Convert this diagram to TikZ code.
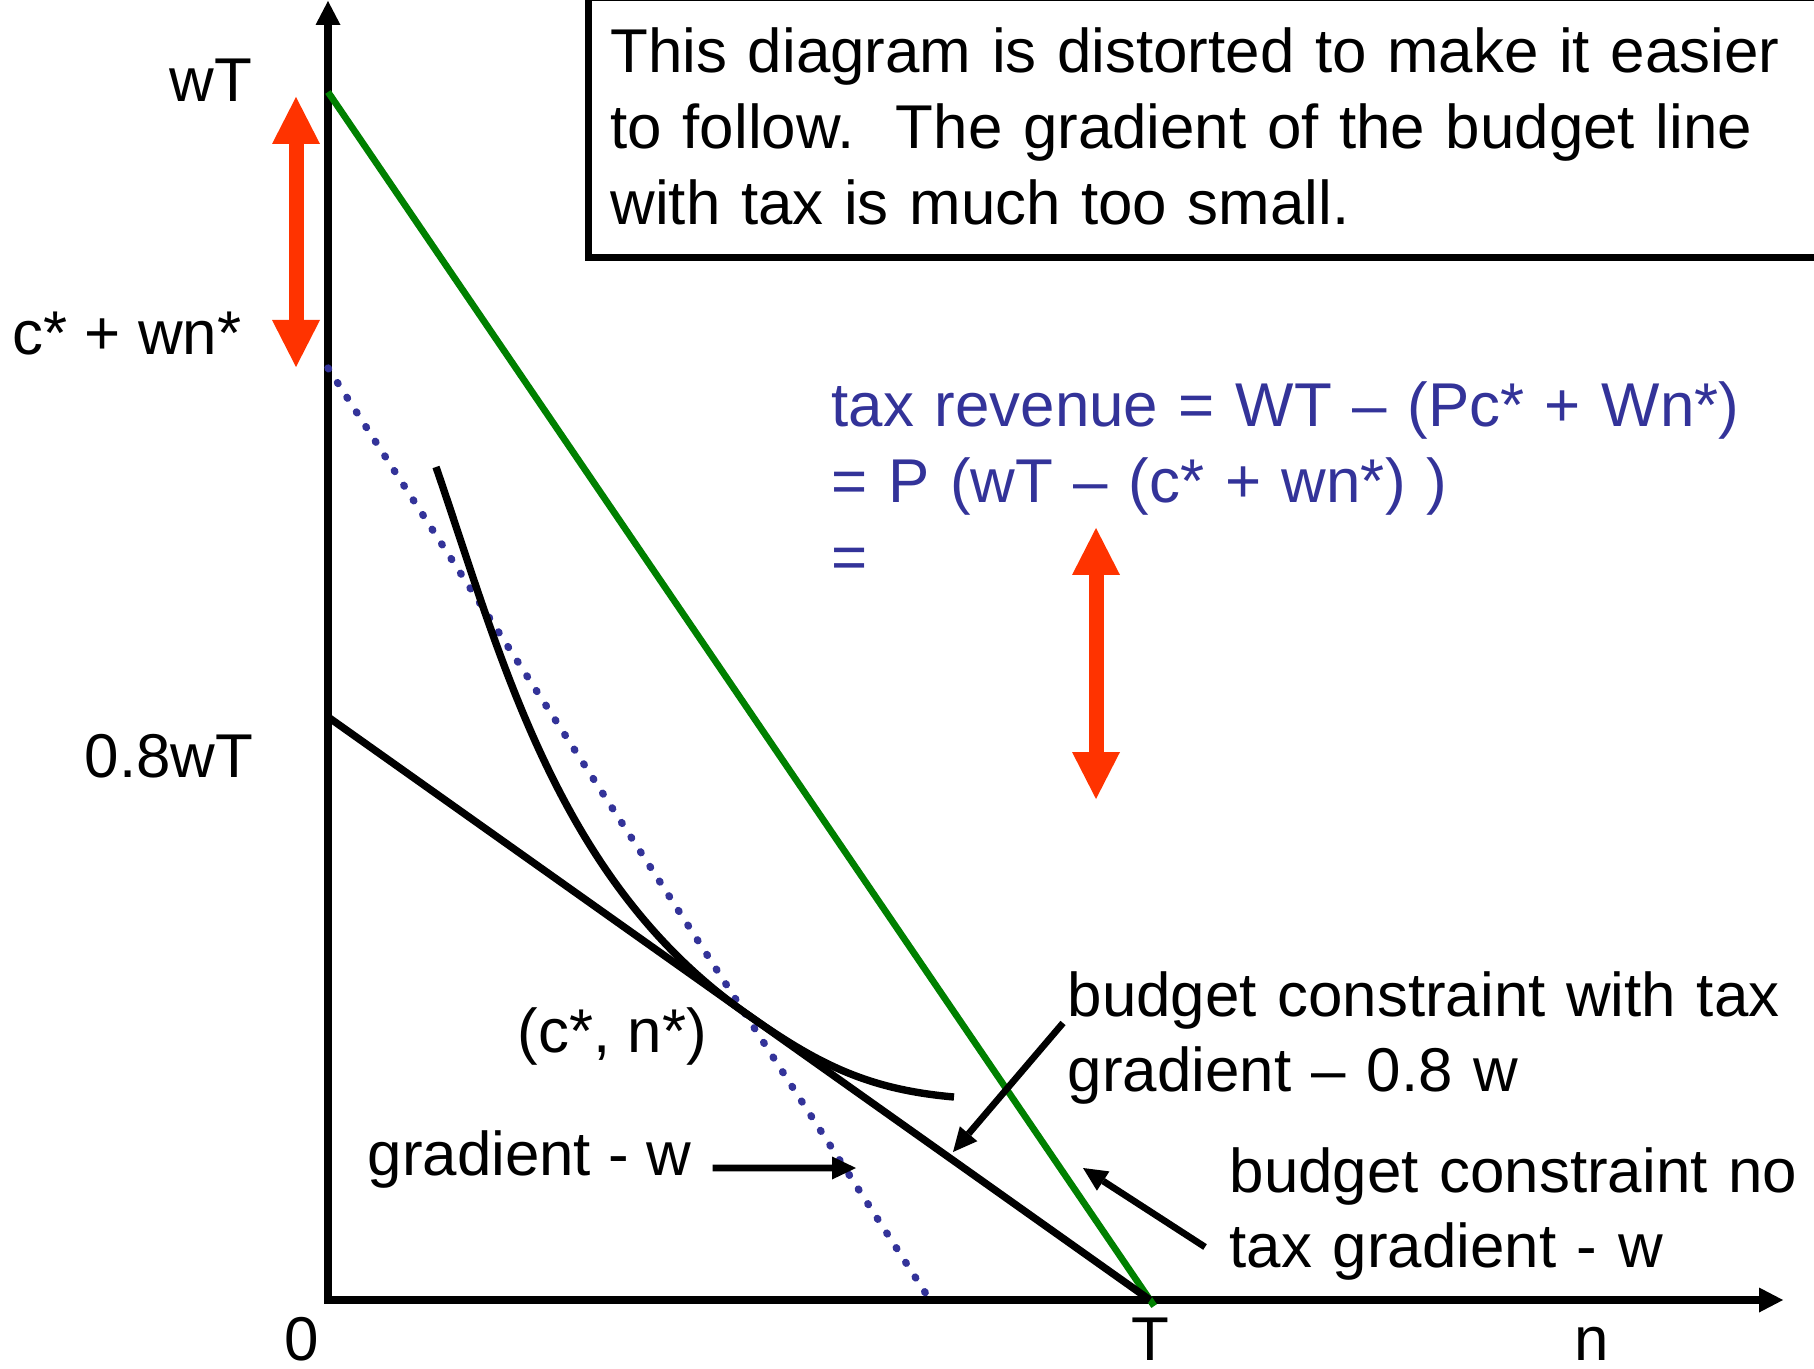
\documentclass[tikz,border=0pt]{standalone}
\usepackage{fontspec}
\setmainfont{Liberation Sans}
\usetikzlibrary{arrows.meta, calc}
\definecolor{cred}{HTML}{FF3300}
\definecolor{cgreen}{HTML}{008000}
\definecolor{cblue}{HTML}{333399}
\tikzset{
  every picture/.style={line width=2.1pt},
  axis/.style={line width=2.3pt, {Triangle[length=0.24cm, width=0.25cm, line width=0pt]}-{Triangle[length=0.24cm, width=0.25cm, line width=0pt]}},
  budget/.style={line width=2.1pt},
  notax/.style={draw=cgreen, line width=1.9pt},
  tangent/.style={draw=cblue, line width=2.1pt, line cap=round, dash pattern=on 0.3pt off 0.164cm},
  ptr/.style={-{Triangle[length=0.24cm, width=0.23cm, line width=0pt]}, line width=1.9pt},
  gap/.style={draw=cred, line width=0.15cm, {Triangle[length=0.47cm, width=0.48cm, line width=0pt]}-{Triangle[length=0.47cm, width=0.48cm, line width=0pt]}},
  lbl/.style={inner sep=0pt},
  txt/.style={inner sep=0pt, align=left, text width=#1},
  notebox/.style={draw, line width=2pt, align=left, text width=12.6cm, inner xsep=0.22cm, inner ysep=0.18cm},
}

\begin{document}
\begin{tikzpicture}[every node/.append style={font=\fontsize{17.6pt}{21.6pt}\selectfont}]
  \useasboundingbox (0,0) rectangle (18.14,13.68);
  \clip (0,0) rectangle (18.14,13.68);

  % axes and points on them
  \coordinate (O) at (3.28,0.68);
  \coordinate (ytop) at (3.28,13.67);
  \coordinate (xend) at (17.83,0.68);
  \coordinate (wT) at (3.28,12.76);
  \coordinate (cw) at (3.28,10.00);
  \coordinate (tx) at (3.28,6.51);
  \coordinate (T) at (11.50,0.68);
  \coordinate (gwe) at (9.30,0.68);
  \coordinate (P) at (intersection of tx--T and cw--gwe);
  \coordinate (ic1) at (4.36,9.01);
  \coordinate (ic2) at (9.54,2.71);

  \draw[axis] (ytop) -- (O) -- (xend);

  % budget lines and indifference curve
  \draw[tangent] (cw) -- (gwe);
  \draw[notax] (wT) -- ($(wT)!1.005!(T)$);
  \draw[budget] (tx) -- (T);
  \draw[budget] (ic1) .. controls +(-71:2.0) and +(144.65:2.3) .. (P)
    to[out=-35.35, in=175] (ic2);

  % axis labels
  \node[lbl, anchor=base east] (lwT) at (2.56,12.66) {wT};
  \node[lbl, anchor=base east] (lcw) at (2.45,10.13) {c* + wn*};
  \node[lbl, anchor=base east] (ltx) at (2.57,5.91) {0.8wT};
  \node[lbl, anchor=base] (l0) at (3.02,0.08) {0};
  \node[lbl, anchor=base] (lT) at (11.50,0.08) {T};
  \node[lbl, anchor=base] (ln) at (15.92,0.08) {n};

  % note and tax revenue
  \node[notebox, anchor=base west] (note) at (5.85,12.95)
    {\rule{0pt}{0.57cm}This diagram is distorted to make it easier\\to follow.\ \ The gradient of the budget line\\with tax is much too small.\rule[-0.15cm]{0pt}{0pt}};
  \node[txt=9.5cm, text=cblue, anchor=base west] (rev) at (8.28,9.41)
    {tax revenue = WT – (Pc* + Wn*)\\= P (wT – (c* + wn*) )\\=};

  \draw[gap] ($(wT)+(-0.32,-0.05)$) -- ($(cw)+(-0.32,0.01)$);
  \coordinate (g1) at (10.96,8.40);
  \coordinate (g2) at (10.96,5.69);
  \draw[gap] (g1) -- (g2);

  % pointers
  \node[lbl, anchor=base west] (cn) at (5.14,3.16) {(c*, n*)};
  \node[lbl, anchor=base west] (gw) at (3.64,1.93) {gradient - w};
  \node[txt=7.4cm, anchor=base west] (btax) at (10.64,3.52) {budget constraint with tax\\gradient – 0.8 w};
  \node[txt=5.8cm, anchor=base west] (bnot) at (12.26,1.76) {budget constraint no\\tax gradient - w};

  \coordinate (p1) at (8.56,2.00);
  \coordinate (p2) at (9.53,2.16);
  \coordinate (p3) at (10.83,2.00);
  \draw[ptr] ($(gw.base east)+(0.18,0.07)$) -- (p1);
  \draw[ptr] ($(btax.base west)+(-0.01,-0.07)$) -- (p2);
  \draw[ptr] ($(bnot.base west)+(-0.21,-0.55)$) -- (p3);
\end{tikzpicture}
\end{document}
